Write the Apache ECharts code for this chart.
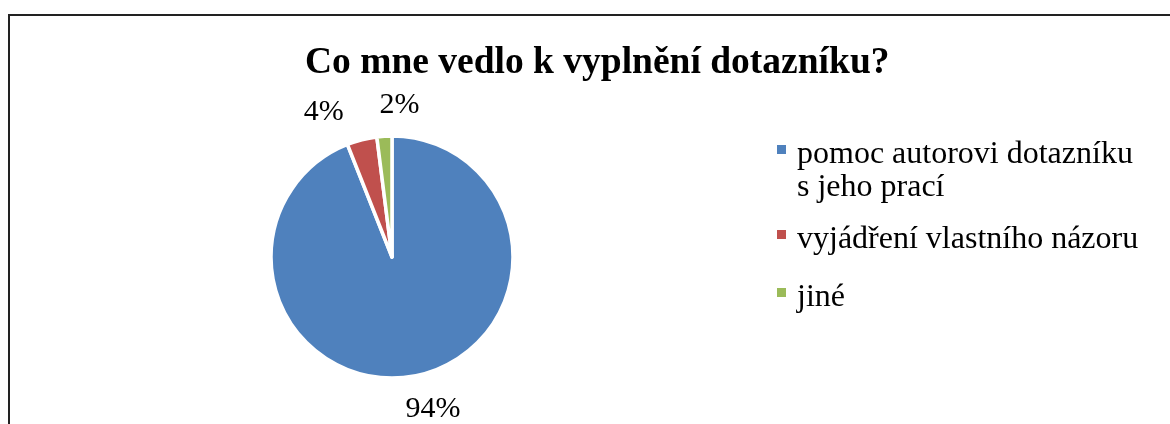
<!DOCTYPE html>
<html>
<head>
<meta charset="utf-8">
<script src="https://cdn.jsdelivr.net/npm/echarts@6/dist/echarts.min.js"></script>
<style>
html, body { margin: 0; padding: 0; background: #fff; }
#chart { width: 1170px; height: 424px; }
</style>
</head>
<body>
<div id="chart"></div>
<script>
// data
const categories = ['pomoc autorovi dotazníku s jeho prací', 'vyjádření vlastního názoru', 'jiné'];
const values = [94, 4, 2];
const colors = ['#4F81BD', '#C0504D', '#9BBB59'];
// label nudges (px) applied after the pie's own label layout
const labelOffsets = [[-17, 19], [40, -41], [41, -16]];

const font = 'Liberation Serif';
const myChart = echarts.init(document.getElementById('chart'));

const legendTops = [105, 223, 281];
// square marker sitting a bit above the text middle (tiny dot extends the box downwards)
const legendIcon = 'path://M0,0h9v9h-9zM0,19h0.01v0.01h-0.01z';

let option = {
    animation: false,
    title: {
        text: 'Co mne vedlo k vyplnění dotazníku?',
        left: 300,
        top: 39,
        textStyle: { fontFamily: font, fontSize: 37.5, fontWeight: 'bold', color: '#000' }
    },
    graphic: [{
        type: 'rect',
        shape: { x: 9, y: 15, width: 1180, height: 430 },
        style: { fill: 'none', stroke: '#222', lineWidth: 2 }
    }],
    legend: categories.map((name, i) => ({
        data: [name],
        orient: 'vertical',
        left: 777,
        top: legendTops[i],
        padding: 0,
        itemWidth: 9,
        itemHeight: 19,
        itemGap: 0,
        icon: legendIcon,
        itemStyle: { borderWidth: 0 },
        selectedMode: false,
        // first item: blank line on top so the marker sits on the first text line
        formatter: n => n.indexOf(' s jeho') > 0 ? '\n' + n.replace(' s jeho', '\ns jeho') : n,
        textStyle: {
            fontFamily: font,
            fontSize: 32,
            color: '#000',
            lineHeight: 33,
            padding: [0, 0, 0, 6]
        }
    })),
    series: [{
        type: 'pie',
        center: [392, 257],
        radius: 121,
        startAngle: 90,
        clockwise: true,
        itemStyle: { borderColor: '#fff', borderWidth: 3.5 },
        label: {
            show: true,
            position: 'outside',
            formatter: p => p.value + '%',
            fontFamily: font,
            fontSize: 30,
            color: '#000'
        },
        labelLine: { show: false, length: 15, length2: 0 },
        labelLayout: p => ({ dx: labelOffsets[p.dataIndex][0], dy: labelOffsets[p.dataIndex][1] }),
        data: categories.map((name, i) => ({
            name: name,
            value: values[i],
            itemStyle: { color: colors[i] }
        }))
    }]
};

myChart.setOption(option);
</script>
</body>
</html>
